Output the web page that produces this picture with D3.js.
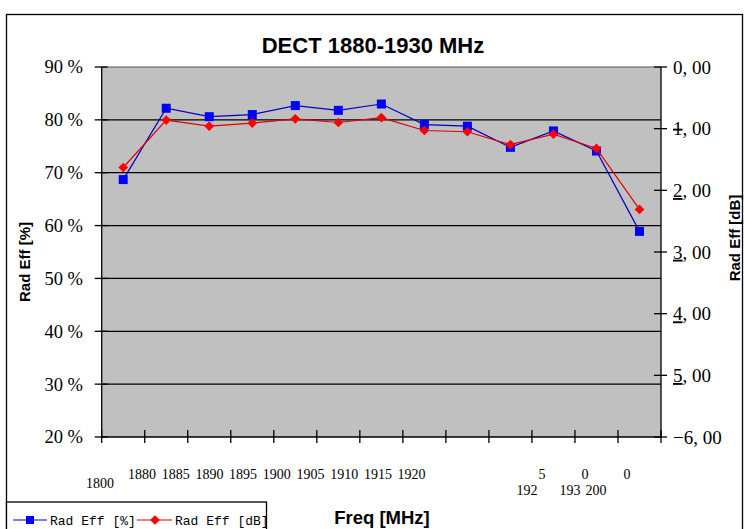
<!DOCTYPE html>
<html lang="en">
<head>
<meta charset="utf-8">
<title>DECT 1880-1930 MHz</title>
<style type="text/css">
  body { margin: 0; background: #fff; }
  svg text { fill: #000; }
</style>
</head>
<body>
<script src="https://cdn.jsdelivr.net/npm/d3@7"></script>
<script>

    var w = 744;
    var h = 529;

    // data
    var categories = ["1800", "1880", "1885", "1890", "1895", "1900", "1905",
                      "1910", "1915", "1920", "1925", "1930", "2000"];
    var effPercent = [68.7, 82.2, 80.6, 81.0, 82.7, 81.8, 83.0, 79.1, 78.8, 74.8, 77.9, 74.1, 58.9];
    var effDb = [-1.63, -0.86, -0.96, -0.91, -0.84, -0.90, -0.82, -1.03, -1.05, -1.26, -1.09, -1.32, -2.31];
    var leftTicks = [20, 30, 40, 50, 60, 70, 80, 90];
    var rightTicks = [0, -1, -2, -3, -4, -5, -6];
    var seriesNames = ["Rad Eff [%]", "Rad Eff [dB]"];

    var plot = {left: 101.7, right: 661, top: 67, bottom: 437};

    var svg = d3.select("body")
            .append("svg")
            .attr("width", w)
            .attr("height", h);

    // outer chart border
    svg.append("rect")
        .attr("x", 6.5).attr("y", 14.5)
        .attr("width", 736).attr("height", 530)
        .attr("fill", "#fff")
        .attr("stroke", "#000")
        .attr("stroke-width", 1.3);

    var x = d3.scaleBand().domain(categories).range([plot.left, plot.right]);
    var yL = d3.scaleLinear().domain([20, 90]).range([plot.bottom, plot.top]);
    var yR = d3.scaleLinear().domain([-6, 0]).range([plot.bottom, plot.top]);
    var cx = function(d, i) { return x(categories[i]) + x.bandwidth() / 2; };

    // plot area
    svg.append("rect")
        .attr("x", plot.left).attr("y", plot.top)
        .attr("width", plot.right - plot.left)
        .attr("height", plot.bottom - plot.top)
        .attr("fill", "#c0c0c0");

    // gridlines
    svg.selectAll("line.grid")
        .data(leftTicks.slice(1))
        .enter()
        .append("line")
        .attr("class", "grid")
        .attr("x1", plot.left).attr("x2", plot.right)
        .attr("y1", function(d) { return yL(d); })
        .attr("y2", function(d) { return yL(d); })
        .attr("stroke", function(d) { return d == 90 ? "#555" : "#000"; })
        .attr("stroke-width", 1.2);

    // left axis
    var gl = svg.append("g");
    gl.append("line")
        .attr("x1", plot.left).attr("x2", plot.left)
        .attr("y1", plot.top).attr("y2", plot.bottom)
        .attr("stroke", "#000").attr("stroke-width", 1.3);
    gl.selectAll("line.tk")
        .data(leftTicks).enter().append("line")
        .attr("x1", plot.left - 7).attr("x2", plot.left + 6)
        .attr("y1", function(d) { return yL(d); })
        .attr("y2", function(d) { return yL(d); })
        .attr("stroke", "#000").attr("stroke-width", 1.3);
    gl.selectAll("text")
        .data(leftTicks).enter().append("text")
        .attr("x", 83)
        .attr("y", function(d) { return yL(d); })
        .attr("dy", "0.35em")
        .attr("text-anchor", "end")
        .style("font-family", "'Liberation Serif', serif")
        .style("font-size", "18.5px")
        .text(function(d) { return d + " %"; });

    // right axis
    var gr = svg.append("g");
    gr.append("line")
        .attr("x1", plot.right).attr("x2", plot.right)
        .attr("y1", plot.top).attr("y2", plot.bottom)
        .attr("stroke", "#000").attr("stroke-width", 1.3);
    gr.selectAll("line.tk")
        .data(rightTicks).enter().append("line")
        .attr("x1", plot.right - 7).attr("x2", plot.right + 6)
        .attr("y1", function(d) { return yR(d); })
        .attr("y2", function(d) { return yR(d); })
        .attr("stroke", "#000").attr("stroke-width", 1.3);
    var rl = gr.selectAll("text")
        .data(rightTicks).enter().append("text")
        .attr("x", 673)
        .attr("y", function(d) { return yR(d); })
        .attr("dy", "0.35em")
        .style("font-family", "'Liberation Serif', serif")
        .style("font-size", "19px");
    // the minus sign shows up as a stray stroke on the digit in the original
    rl.append("tspan")
        .style("text-decoration", function(d) {
            if (d == -1) return "line-through";
            if (d < -1 && d > -6) return "underline";
            return "none";
        })
        .text(function(d) { return d == -6 ? "\u22126" : Math.abs(d); });
    rl.append("tspan").text(", 00");

    // x axis
    svg.append("line")
        .attr("x1", plot.left).attr("x2", plot.right)
        .attr("y1", plot.bottom).attr("y2", plot.bottom)
        .attr("stroke", "#000").attr("stroke-width", 1.3);
    var bounds = categories.map(function(c) { return x(c); }).concat([plot.right]);
    svg.selectAll("line.xt")
        .data(bounds).enter().append("line")
        .attr("x1", function(d) { return d; })
        .attr("x2", function(d) { return d; })
        .attr("y1", plot.bottom - 7).attr("y2", plot.bottom + 6)
        .attr("stroke", "#000").attr("stroke-width", 1.3);

    // category labels, laid out as they wrapped in the original
    var xlab = svg.append("g")
        .style("font-family", "'Liberation Serif', serif")
        .style("font-size", "14px");
    xlab.append("text").attr("x", 100).attr("y", 483).attr("dy", "0.35em")
        .attr("text-anchor", "middle").text(categories[0]);
    for (var i = 1; i <= 9; i++) {
        xlab.append("text")
            .attr("x", 128 + (i - 1) * 33.7).attr("y", 474).attr("dy", "0.35em")
            .text(categories[i]);
    }
    var wrapped = [
        {top: categories[10].slice(3), tx: 542, bot: categories[10].slice(0, 3), bx: 527},
        {top: categories[11].slice(3), tx: 585, bot: categories[11].slice(0, 3), bx: 570},
        {top: categories[12].slice(3), tx: 627, bot: categories[12].slice(0, 3), bx: 596}
    ];
    wrapped.forEach(function(p) {
        xlab.append("text").attr("x", p.tx).attr("y", 474).attr("dy", "0.35em")
            .attr("text-anchor", "middle").text(p.top);
        xlab.append("text").attr("x", p.bx).attr("y", 490).attr("dy", "0.35em")
            .attr("text-anchor", "middle").text(p.bot);
    });

    // series
    var lineL = d3.line().x(cx).y(function(d) { return yL(d); });
    var lineR = d3.line().x(cx).y(function(d) { return yR(d); });

    svg.append("path")
        .attr("d", lineL(effPercent))
        .attr("fill", "none")
        .attr("stroke", "#0000c0")
        .attr("stroke-width", 1.2);
    svg.selectAll("rect.sq")
        .data(effPercent).enter().append("rect")
        .attr("x", function(d, i) { return cx(d, i) - 4.5; })
        .attr("y", function(d) { return yL(d) - 4.5; })
        .attr("width", 9).attr("height", 9)
        .attr("fill", "#0000ff");

    var diamond = d3.symbol().type(d3.symbolDiamond2).size(60);
    svg.append("path")
        .attr("d", lineR(effDb))
        .attr("fill", "none")
        .attr("stroke", "#e00000")
        .attr("stroke-width", 1.2);
    svg.selectAll("path.dm")
        .data(effDb).enter().append("path")
        .attr("d", diamond)
        .attr("transform", function(d, i) { return "translate(" + cx(d, i) + "," + yR(d) + ")"; })
        .attr("fill", "#ff0000");

    // titles
    svg.append("text")
        .attr("x", 373).attr("y", 45).attr("dy", "0.35em")
        .attr("text-anchor", "middle")
        .style("font-family", "'Liberation Sans', Arial, sans-serif")
        .style("font-weight", "bold")
        .style("font-size", "22px")
        .text("DECT 1880-1930 MHz");
    svg.append("text")
        .attr("x", 382).attr("y", 518).attr("dy", "0.35em")
        .attr("text-anchor", "middle")
        .style("font-family", "'Liberation Sans', Arial, sans-serif")
        .style("font-weight", "bold")
        .style("font-size", "18.5px")
        .text("Freq [MHz]");
    svg.append("text")
        .attr("transform", "translate(25,262) rotate(-90)")
        .attr("dy", "0.35em")
        .attr("text-anchor", "middle")
        .style("font-family", "'Liberation Sans', Arial, sans-serif")
        .style("font-weight", "bold")
        .style("font-size", "15px")
        .text(seriesNames[0]);
    svg.append("text")
        .attr("transform", "translate(735,238) rotate(-90)")
        .attr("dy", "0.35em")
        .attr("text-anchor", "middle")
        .style("font-family", "'Liberation Sans', Arial, sans-serif")
        .style("font-weight", "bold")
        .style("font-size", "15px")
        .text(seriesNames[1]);

    // legend
    var lg = svg.append("g");
    lg.append("rect")
        .attr("x", 6.5).attr("y", 502)
        .attr("width", 260).attr("height", 40)
        .attr("fill", "#fff")
        .attr("stroke", "#000").attr("stroke-width", 1.3);
    lg.append("line").attr("x1", 13).attr("x2", 47).attr("y1", 520).attr("y2", 520)
        .attr("stroke", "#0000c0").attr("stroke-width", 1.2);
    lg.append("rect").attr("x", 26).attr("y", 516).attr("width", 8).attr("height", 8)
        .attr("fill", "#0000ff");
    lg.append("text").attr("x", 50).attr("y", 520).attr("dy", "0.35em")
        .style("font-family", "'Liberation Mono', monospace")
        .style("font-size", "13px")
        .text(seriesNames[0]);
    lg.append("line").attr("x1", 137).attr("x2", 172).attr("y1", 520).attr("y2", 520)
        .attr("stroke", "#e00000").attr("stroke-width", 1.2);
    lg.append("path").attr("d", diamond).attr("transform", "translate(155,520)")
        .attr("fill", "#ff0000");
    lg.append("text").attr("x", 175).attr("y", 520).attr("dy", "0.35em")
        .style("font-family", "'Liberation Mono', monospace")
        .style("font-size", "13px")
        .text(seriesNames[1]);

</script>
</body>
</html>
